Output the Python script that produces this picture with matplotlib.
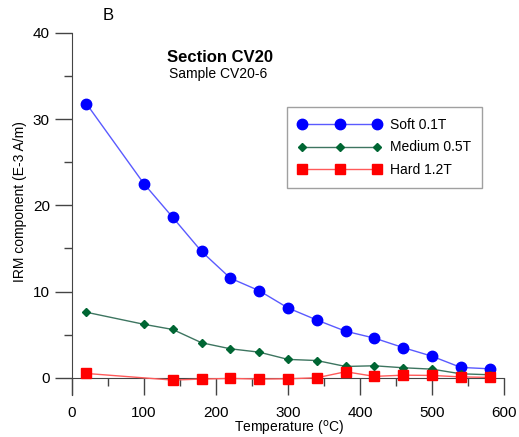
import matplotlib
matplotlib.use("Agg")
import matplotlib.pyplot as plt
from matplotlib.ticker import MultipleLocator

plt.rcParams['font.family'] = ['Liberation Sans', 'DejaVu Sans']

temps = [20, 100, 140, 180, 220, 260, 300, 340, 380, 420, 460, 500, 540, 580]
soft = [31.8, 22.5, 18.6, 14.65, 11.55, 10.1, 8.1, 6.7, 5.4, 4.6, 3.5, 2.5, 1.2, 1.04]
medium = [7.6, 6.2, 5.6, 4.06, 3.36, 2.97, 2.13, 2.0, 1.31, 1.39, 1.16, 1.0, 0.46, 0.35]
hard_temps = [20, 140, 180, 220, 260, 300, 340, 380, 420, 460, 500, 540, 580]
hard = [0.5, -0.27, -0.15, -0.08, -0.15, -0.12, 0.0, 0.7, 0.16, 0.3, 0.27, 0.1, 0.04]

W, H = 519, 437
fig = plt.figure(figsize=(W / 100, H / 100), dpi=100)
ax = fig.add_axes([72 / W, (H - 395) / H, (504 - 72) / W, (395 - 33) / H])

ax.plot(temps, soft, '-o', color='#5a5aff', lw=1, mfc='#0000ff', mec='#0000ff',
        ms=7.5, label='Soft 0.1T', zorder=3)
ax.plot(temps, medium, '-D', color='#3d7560', lw=1, mfc='#006633', mec='#006633',
        ms=4.5, label='Medium 0.5T', zorder=3)
ax.plot(hard_temps, hard, '-s', color='#ff5a5a', lw=1, mfc='#ff0000', mec='#ff0000',
        ms=7.5, label='Hard 1.2T', zorder=3)

ax.set_xlim(0, 600)
ax.set_ylim(-2, 40)
for s in ['top', 'right']:
    ax.spines[s].set_visible(False)
ax.spines['bottom'].set_position(('data', 0))
ax.spines['left'].set_color('#444444')
ax.spines['bottom'].set_color('#444444')

ax.xaxis.set_major_locator(MultipleLocator(100))
ax.xaxis.set_minor_locator(MultipleLocator(50))
ax.yaxis.set_major_locator(MultipleLocator(10))
ax.yaxis.set_minor_locator(MultipleLocator(5))
ax.tick_params(axis='both', which='major', length=12, width=1, color='#444444',
               labelsize=11, direction='out')
ax.tick_params(axis='both', which='minor', length=6, width=1, color='#444444',
               direction='out')
ax.tick_params(axis='x', pad=8)
ax.tick_params(axis='y', pad=4)

ax.set_xlabel('Temperature ($^{\\rm o}$C)', fontsize=10)
ax.xaxis.set_label_coords((289 - 72) / (504 - 72), (395 - 428) / (395 - 33))
ax.xaxis.label.set_va('center')
ax.set_ylabel('IRM component (E-3 A/m)', fontsize=10)
ax.yaxis.set_label_coords((20 - 72) / (504 - 72), (395 - 202) / (395 - 33))
ax.yaxis.label.set_va('center')

fig.text(220 / W, 1 - 57 / H, 'Section CV20', ha='center', va='center',
         fontsize=12, fontweight='bold')
fig.text(218 / W, 1 - 74 / H, 'Sample CV20-6', ha='center', va='center',
         fontsize=10)
fig.text(108 / W, 1 - 16 / H, 'B', ha='center', va='center', fontsize=12)

leg = ax.legend(loc='upper left', bbox_to_anchor=((287 - 72) / (504 - 72), (395 - 107) / (395 - 33)),
                fontsize=10, frameon=True, fancybox=False, edgecolor='#888888',
                handlelength=6.0, numpoints=3, borderpad=0.8, labelspacing=0.6,
                handletextpad=0.6, borderaxespad=0)
leg.get_frame().set_linewidth(1)

fig.savefig('out.png', dpi=100)
